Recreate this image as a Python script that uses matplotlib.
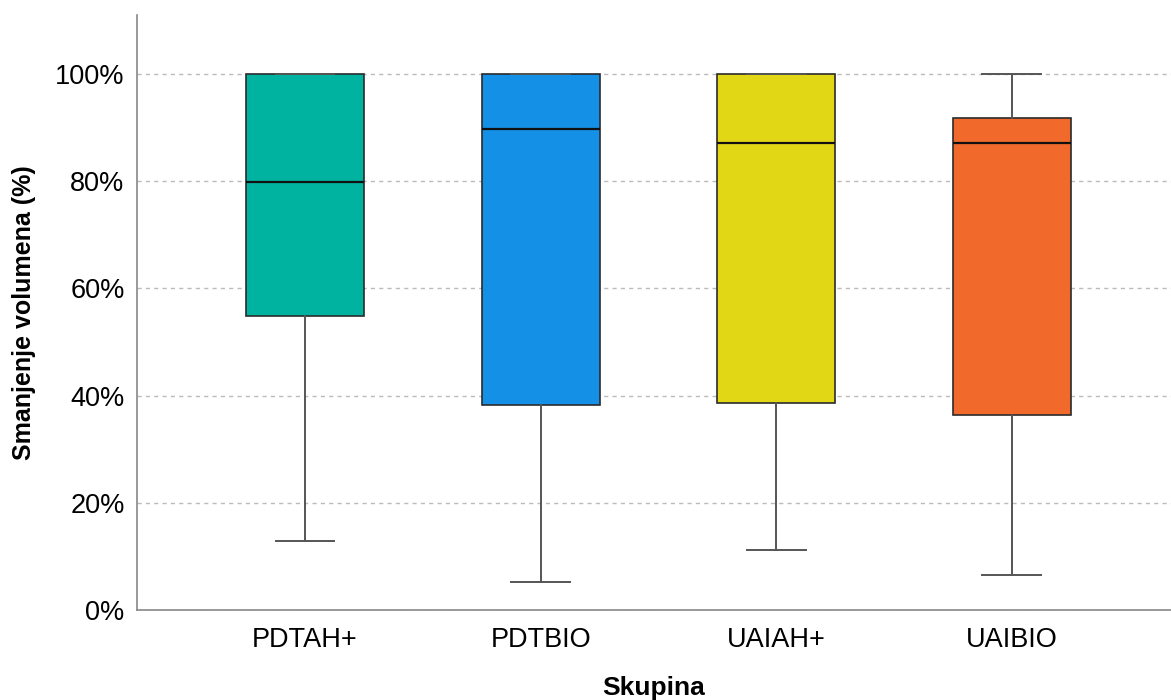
import matplotlib
matplotlib.use("Agg")
import matplotlib.pyplot as plt
from matplotlib.ticker import PercentFormatter

# five-number summaries per group (percent volume reduction)
skupine = ["PDTAH+", "PDTBIO", "UAIAH+", "UAIBIO"]
minimum = [12.9, 5.2, 11.2, 6.6]
q1 = [54.8, 38.3, 38.7, 36.3]
median = [79.8, 89.7, 87.1, 87.1]
q3 = [100.0, 100.0, 100.0, 91.8]
maximum = [100.0, 100.0, 100.0, 100.0]
barve = ["#00B3A0", "#1490E6", "#E1D714", "#F2692C"]

plt.rcParams['font.family'] = ['Liberation Sans', 'DejaVu Sans']

fig = plt.figure(figsize=(11.71, 7.0), dpi=100)
ax = fig.add_axes([0.117, 0.1286, 0.883, 0.85])

stats = []
for i, name in enumerate(skupine):
    stats.append({"label": name, "whislo": minimum[i], "q1": q1[i], "med": median[i],
                  "q3": q3[i], "whishi": maximum[i], "fliers": []})

bp = ax.bxp(stats, positions=range(len(skupine)), widths=0.5, patch_artist=True,
            showfliers=False,
            boxprops=dict(edgecolor="#2b2b2b", linewidth=1.2),
            medianprops=dict(color="#111111", linewidth=1.6),
            whiskerprops=dict(color="#555555", linewidth=1.4),
            capprops=dict(color="#555555", linewidth=1.4),
            capwidths=0.25, zorder=3)
for patch, c in zip(bp["boxes"], barve):
    patch.set_facecolor(c)

ax.set_xlim(-0.713, 3.675)
ax.set_ylim(0, 111)
ax.set_yticks([0, 20, 40, 60, 80, 100])
ax.yaxis.set_major_formatter(PercentFormatter(decimals=0))
ax.yaxis.grid(True, linestyle=(0, (3, 3)), color="#bbbbbb", linewidth=1.0, zorder=0)
ax.set_axisbelow(True)

for s in ["top", "right"]:
    ax.spines[s].set_visible(False)
for s in ["left", "bottom"]:
    ax.spines[s].set_color("#888888")
    ax.spines[s].set_linewidth(1.2)

ax.tick_params(axis="both", length=0, labelsize=19.5, pad=9)
ax.tick_params(axis="x", pad=12)

ax.set_xlabel("Skupina", fontsize=19, fontweight="bold", labelpad=17)
ax.set_ylabel("Smanjenje volumena (%)", fontsize=18, fontweight="bold", labelpad=14)

fig.savefig("out.png", dpi=100)
